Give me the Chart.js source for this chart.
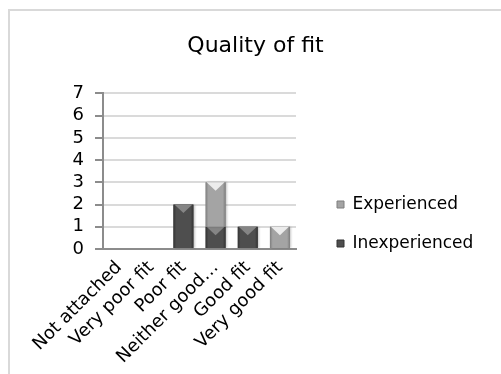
<!DOCTYPE html>
<html>
<head>
<meta charset="utf-8">
<script src="https://cdn.jsdelivr.net/npm/chart.js@4"></script>
<style>
  html, body { margin: 0; padding: 0; background: #fff; overflow: hidden; }
  #frame {
    position: absolute; left: 8px; top: 9px;
    width: 491px; height: 363px;
    border-top: 2px solid #d9d9d9; border-left: 2px solid #d9d9d9;
  }
</style>
</head>
<body>
<div id="frame"><canvas id="chart"></canvas></div>
<script>
// Survey answers: how well the device fitted, counted per respondent group
const categories = ['Not attached', 'Very poor fit', 'Poor fit', 'Neither good\u2026', 'Good fit', 'Very good fit'];
const inexperienced = [0, 0, 2, 1, 1, 0];
const experienced   = [0, 0, 0, 2, 0, 1];
const yTicks = [0, 1, 2, 3, 4, 5, 6, 7];

const FONT = 'DejaVu Sans';
const LEGEND_WIDTH = 186;

// Shades for the bevelled bar look: edge, body, top chevron
const SHADES = [
  { edge: '#333333', mid: '#4e4e4e', light: '#858585' },   // Inexperienced
  { edge: '#7e7e7e', mid: '#a4a4a4', light: '#ececec' }    // Experienced
];

// Paints each bar with a darker rim, a soft shadow and a light chevron at its top
const bevel = {
  id: 'bevel',
  afterDatasetsDraw(chart) {
    const ctx = chart.ctx;
    chart.data.datasets.forEach((ds, di) => {
      const meta = chart.getDatasetMeta(di);
      if (meta.hidden) return;
      const pal = SHADES[di];
      meta.data.forEach((bar) => {
        const { x, y, base, width } = bar.getProps(['x', 'y', 'base', 'width'], true);
        const h = base - y;
        if (h < 0.5) return;
        const l = x - width / 2, r = x + width / 2;
        ctx.save();
        ctx.shadowColor = 'rgba(0,0,0,0.22)';
        ctx.shadowOffsetX = 1.5;
        ctx.shadowOffsetY = 0;
        ctx.shadowBlur = 2;
        const g = ctx.createLinearGradient(l, 0, r, 0);
        g.addColorStop(0, pal.edge);
        g.addColorStop(0.14, pal.mid);
        g.addColorStop(0.86, pal.mid);
        g.addColorStop(1, pal.edge);
        ctx.fillStyle = g;
        ctx.fillRect(l, y, width, h);
        ctx.restore();
        ctx.save();
        const d = Math.min(width * 0.42, h);
        ctx.beginPath();
        ctx.moveTo(l + 1, y);
        ctx.lineTo(r - 1, y);
        ctx.lineTo(x, y + d);
        ctx.closePath();
        ctx.fillStyle = pal.light;
        ctx.fill();
        ctx.restore();
      });
    });
  }
};

// Gives the legend column a fixed width so the plot keeps its size
const legendWidth = {
  id: 'legendWidth',
  afterInit(chart) {
    const lg = chart.legend;
    if (!lg) return;
    const fit = lg.fit.bind(lg);
    lg.fit = function () { fit(); this.width = LEGEND_WIDTH; };
  }
};

new Chart(document.getElementById('chart'), {
  type: 'bar',
  data: {
    labels: categories,
    datasets: [
      { label: 'Inexperienced', data: inexperienced, backgroundColor: SHADES[0].mid },
      { label: 'Experienced',   data: experienced,   backgroundColor: SHADES[1].mid }
    ]
  },
  options: {
    responsive: true,
    maintainAspectRatio: false,
    animation: false,
    categoryPercentage: 1,
    barPercentage: 0.62,
    layout: { padding: 0 },
    plugins: {
      title: {
        display: true,
        text: 'Quality of fit',
        color: '#000',
        font: { family: FONT, size: 22, weight: 'normal' },
        padding: { top: 22, bottom: 34 }
      },
      legend: {
        position: 'right',
        align: 'start',
        reverse: true,
        title: {
          display: true,
          text: ' ',
          font: { size: 10, lineHeight: 1 },
          padding: { top: 153, bottom: 0 }
        },
        labels: {
          color: '#000',
          font: { family: FONT, size: 17 },
          boxWidth: 7,
          boxHeight: 7,
          padding: 22,
          generateLabels(chart) {
            return chart.data.datasets.map((ds, i) => ({
              text: ds.label,
              fillStyle: SHADES[i].mid,
              strokeStyle: SHADES[i].edge,
              fontColor: '#000',
              lineWidth: 1,
              datasetIndex: i,
              hidden: false
            }));
          }
        }
      },
      tooltip: { enabled: false }
    },
    scales: {
      x: {
        stacked: true,
        grid: { display: false, drawTicks: false },
        border: { display: true, color: '#8c8c8c', width: 2 },
        ticks: {
          color: '#000',
          font: { family: FONT, size: 18 },
          minRotation: 45,
          maxRotation: 45,
          autoSkip: false,
          padding: 8
        },
        afterFit(scale) { scale.height = 125; }
      },
      y: {
        stacked: true,
        min: 0,
        max: 7,
        afterBuildTicks(scale) { scale.ticks = yTicks.map(v => ({ value: v })); },
        grid: { color: '#dadada', lineWidth: 2, tickColor: '#8c8c8c', tickLength: 8, tickWidth: 2 },
        border: { display: true, color: '#8c8c8c', width: 2 },
        ticks: {
          color: '#000',
          font: { family: FONT, size: 18 },
          padding: 11,
          autoSkip: false,
          stepSize: 1
        },
        afterFit(scale) { scale.width = 93; }
      },
      // empty strip between the plot and the legend
      gap: {
        type: 'linear',
        position: 'right',
        display: true,
        grid: { display: false, drawTicks: false },
        border: { display: false },
        ticks: { display: false },
        afterFit(scale) { scale.width = 19; }
      }
    }
  },
  plugins: [bevel, legendWidth]
});
</script>
</body>
</html>
